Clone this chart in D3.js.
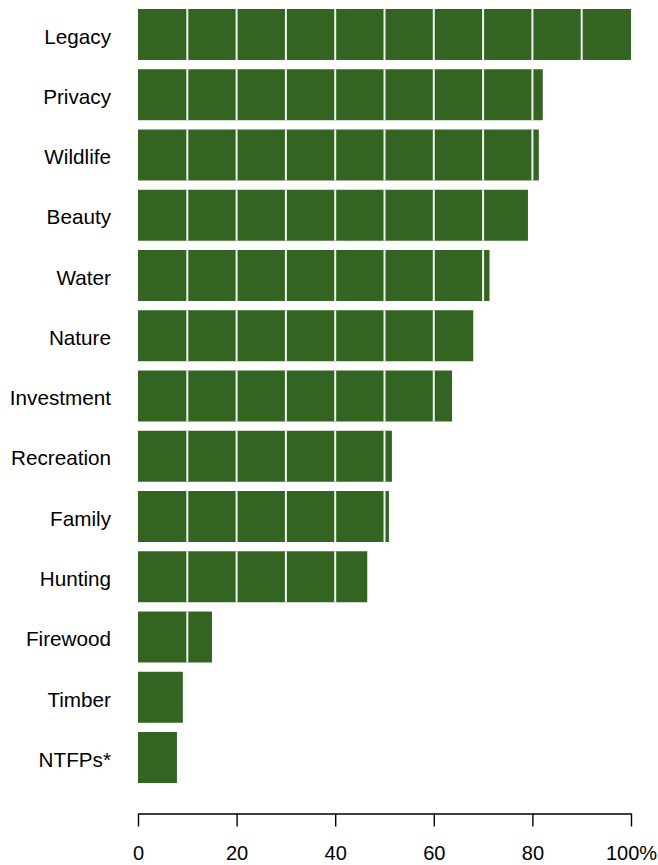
<!DOCTYPE html>
<html>
<head>
<meta charset="utf-8">
<script src="https://cdn.jsdelivr.net/npm/d3@7"></script>
<style>
  body { margin: 0; background: #fff; }
  svg { display: block; font-family: "Liberation Sans", Arial, sans-serif; }
</style>
</head>
<body>
<div class="canvas"></div>
<script>
// reasons for owning land, % of respondents
var categories = ["Legacy", "Privacy", "Wildlife", "Beauty", "Water", "Nature",
                  "Investment", "Recreation", "Family", "Hunting", "Firewood", "Timber", "NTFPs*"];
var values = [100, 82.1, 81.3, 79.1, 71.3, 68.0, 63.7, 51.5, 50.9, 46.5, 15.0, 9.1, 7.9];
var tickValues = [0, 20, 40, 60, 80, 100];
var tickLabels = ["0", "20", "40", "60", "80", "100%"];
var gridSteps = [10, 20, 30, 40, 50, 60, 70, 80, 90];

var width = 658, height = 865;
var barColor = "#336422";

var svg = d3.select(".canvas").append("svg")
    .attr("width", width)
    .attr("height", height);

var x = d3.scaleLinear().domain([0, 100]).range([138, 631]);
var y = d3.scaleBand().domain(categories).range([9, 783]).paddingInner(0.154).paddingOuter(0);

var rows = categories.map(function(c, i){ return {name: c, value: values[i]}; });

svg.selectAll("rect.bar")
    .data(rows)
    .enter()
    .append("rect")
    .attr("class", "bar")
    .attr("x", x(0))
    .attr("y", function(d){ return y(d.name); })
    .attr("width", function(d){ return x(d.value) - x(0); })
    .attr("height", y.bandwidth())
    .attr("fill", barColor);

// white divider lines every 10%, only inside each bar
rows.forEach(function(d){
    svg.selectAll(null)
        .data(gridSteps.filter(function(g){ return g < d.value; }))
        .enter()
        .append("line")
        .attr("x1", function(g){ return x(g); })
        .attr("x2", function(g){ return x(g); })
        .attr("y1", y(d.name))
        .attr("y2", y(d.name) + y.bandwidth())
        .attr("stroke", "#f2f2f2")
        .attr("stroke-width", 2);
});

svg.selectAll("text.cat")
    .data(rows)
    .enter()
    .append("text")
    .attr("class", "cat")
    .attr("x", 111)
    .attr("y", function(d){ return y(d.name) + y.bandwidth() / 2 + 2; })
    .attr("dy", "0.35em")
    .attr("text-anchor", "end")
    .style("font-size", "20.7px")
    .attr("fill", "#000")
    .text(function(d){ return d.name; });

var axis = d3.axisBottom(x)
    .tickValues(tickValues)
    .tickFormat(function(d, i){ return tickLabels[i]; })
    .tickSize(13)
    .tickSizeOuter(0)
    .tickPadding(19.5);

var gx = svg.append("g")
    .attr("transform", "translate(0,813.5)")
    .call(axis);

gx.select(".domain").attr("stroke", "#000").attr("stroke-width", 1.4);
gx.selectAll(".tick line").attr("stroke", "#000").attr("stroke-width", 1.4);
gx.selectAll(".tick text")
    .attr("fill", "#000")
    .style("font-size", "20px")
    .style("font-family", "'Liberation Sans', Arial, sans-serif");
</script>
</body>
</html>
